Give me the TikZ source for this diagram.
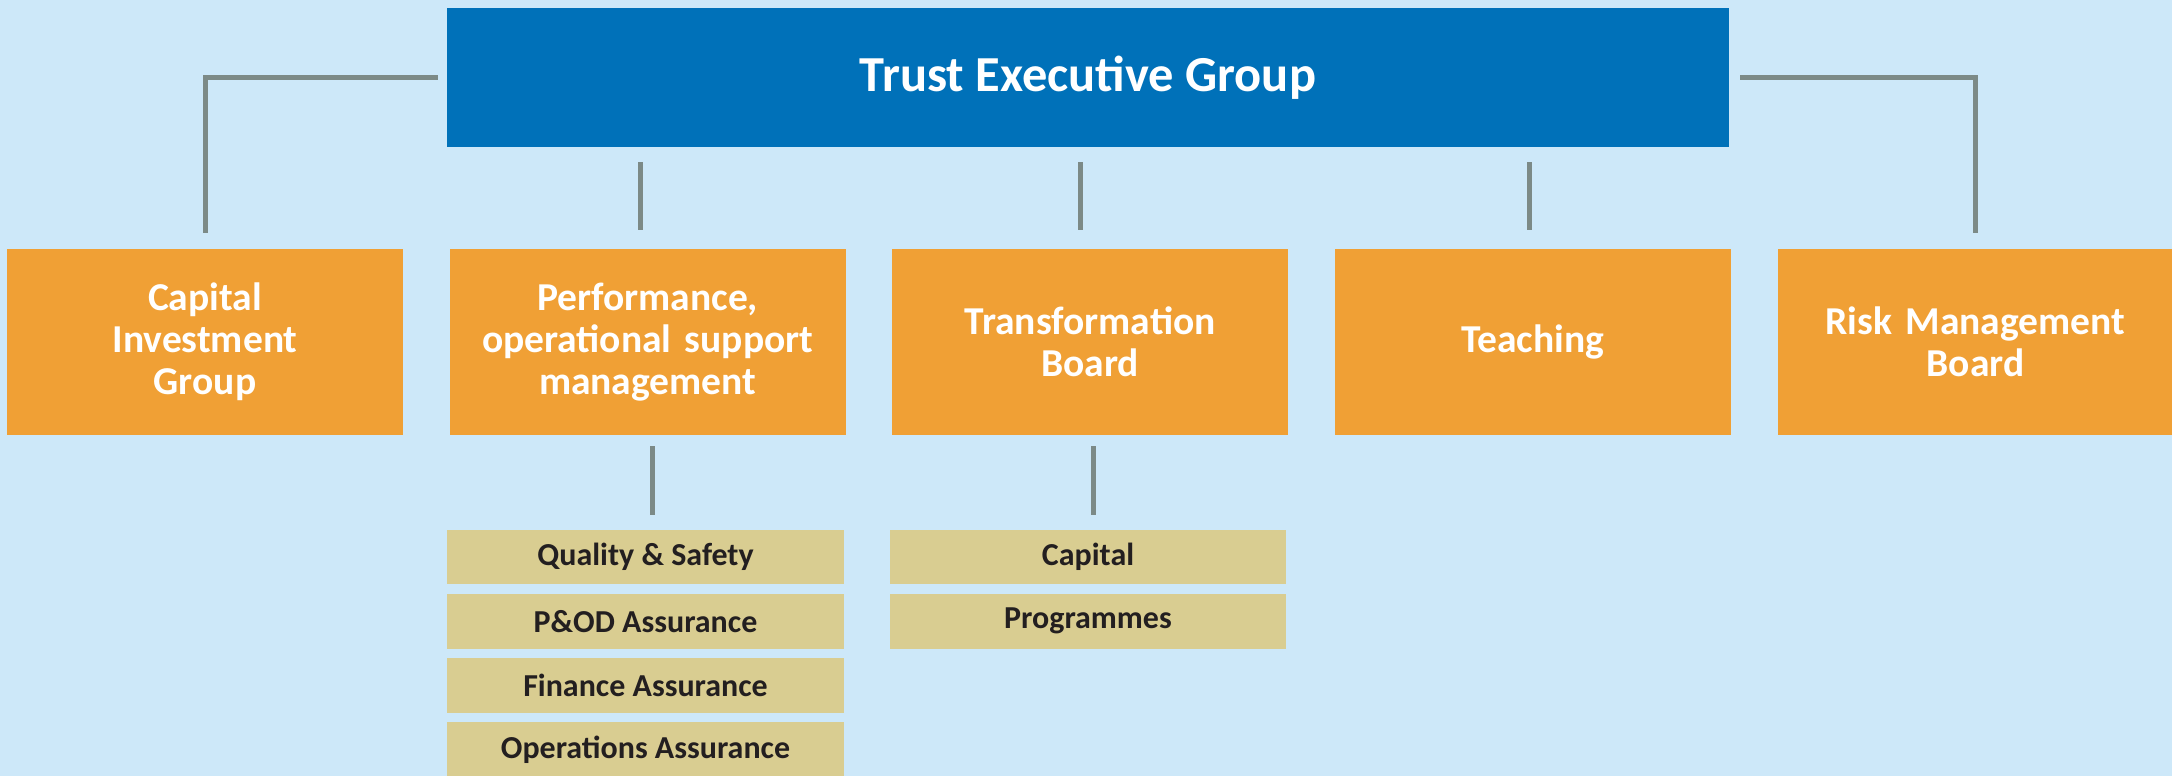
\documentclass[tikz,border=0pt]{standalone}
\usepackage{fontspec}
\setmainfont{Carlito}
\usetikzlibrary{positioning}

\definecolor{bgblue}{HTML}{CDE8F9}
\definecolor{tegblue}{HTML}{0071B9}
\definecolor{boardorange}{HTML}{F0A035}
\definecolor{subtan}{HTML}{D9CD91}
\definecolor{subtext}{HTML}{231F20}
\definecolor{linegray}{HTML}{7C8A87}

\begin{document}
\begin{tikzpicture}[x=0.02cm, y=-0.02cm,
    line/.style={draw=linegray, line width=0.1cm},
    topbox/.style={fill=tegblue, text=white, inner sep=0pt,
      minimum width=25.64cm, minimum height=2.78cm,
      font=\fontsize{28.7}{32}\selectfont\bfseries},
    board/.style={fill=boardorange, text=white, inner sep=0pt,
      minimum width=7.92cm, minimum height=3.72cm, text width=7.92cm, align=center,
      font=\fontsize{22.5}{24}\selectfont\bfseries},
    subbox/.style={fill=subtan, text=subtext, inner sep=0pt,
      minimum width=7.94cm, minimum height=1.1cm,
      font=\fontsize{18.2}{20}\selectfont\bfseries}]
    \useasboundingbox (0,0) rectangle (2172,776);
    \fill[bgblue] (0,0) rectangle (2172,776);
    %
    \node[topbox] (teg) at (1088,77.5) {Trust Executive Group};
    %
    \node[board] (cig) at (205,342) {Capital\\Investment\\Group};
    \node[board, right=0.92cm of cig] (pos) {Performance,\\operational support\\management};
    \node[board, right=0.92cm of pos] (tb) {Transformation\\Board};
    \node[board, right=0.92cm of tb] (teach) {Teaching};
    \node[board, right=0.92cm of teach] (rmb) {Risk Management\\Board};
    %
    \node[subbox] (qs) at (645.5,557) {Quality \& Safety};
    \node[subbox, below=0.17cm of qs] (pod) {P\&OD Assurance};
    \node[subbox, below=0.17cm of pod] (fin) {Finance Assurance};
    \node[subbox, below=0.17cm of fin] (ops) {Operations Assurance};
    \node[subbox] (cap) at (1088,557) {Capital};
    \node[subbox, below=0.17cm of cap] (prog) {Programmes};
    %
    \draw[line] ([xshift=-0.18cm]teg.west) -| ([yshift=0.32cm]cig.north);
    \draw[line] ([xshift=0.22cm]teg.east) -| ([yshift=0.32cm]rmb.north);
    \foreach \b/\dx in {pos/-0.14, tb/-0.2, teach/-0.06}
      \draw[line] (\b.north) ++(\dx cm,0.38cm) -- ++(0,1.36cm);
    \draw[line] (pos.south) ++(0.1cm,-0.22cm) -- ++(0,-1.38cm);
    \draw[line] (tb.south) ++(0.06cm,-0.22cm) -- ++(0,-1.38cm);
\end{tikzpicture}
\end{document}
